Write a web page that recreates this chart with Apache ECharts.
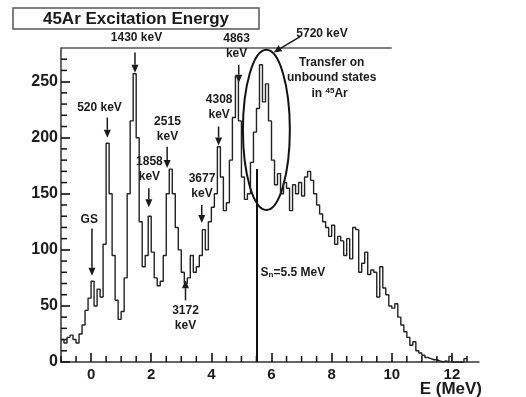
<!DOCTYPE html>
<html>
<head>
<meta charset="utf-8">
<script src="https://cdn.jsdelivr.net/npm/echarts@6/dist/echarts.min.js"></script>
<style>
  html, body { margin: 0; padding: 0; background: #fff; }
  #chart { width: 526px; height: 397px; }
</style>
</head>
<body>
<div id="chart"></div>
<script>
// histogram: 0.1 MeV bins starting at -1.0 MeV
const BIN_START = -1.0;
const BIN_WIDTH = 0.1;
const counts = [
  20, 17, 22, 24, 20, 17, 25, 33, 46, 57,          // -1.0 .. -0.1
  72, 50, 65, 58, 105, 195, 150, 95, 55, 38,       // 0.0 .. 0.9
  45, 75, 150, 215, 257, 200, 125, 85, 95, 130,    // 1.0 .. 1.9
  98, 75, 68, 72, 95, 150, 172, 150, 120, 100,     // 2.0 .. 2.9
  80, 70, 75, 95, 80, 85, 95, 118, 100, 125,       // 3.0 .. 3.9
  138, 150, 192, 165, 135, 142, 180, 218, 255, 215,// 4.0 .. 4.9
  165, 145, 150, 178, 205, 226, 265, 232, 248, 215,// 5.0 .. 5.9
  180, 158, 168, 150, 160, 155, 135, 158, 150, 160,// 6.0 .. 6.9
  148, 165, 170, 162, 150, 140, 132, 125, 120, 112,// 7.0 .. 7.9
  122, 105, 112, 108, 95, 110, 92, 120, 118, 80,   // 8.0 .. 8.9
  88, 98, 78, 82, 80, 58, 85, 66, 60, 50,          // 9.0 .. 9.9
  48, 52, 40, 33, 27, 22, 15, 18, 10, 8,           // 10.0 .. 10.9
  6, 4, 3, 2, 2, 1, 0, 1, 0, 5,                    // 11.0 .. 11.9
  0, 0, 0, 0, 3                                    // 12.0 .. 12.4
];

const X_MIN = -1, X_MAX = 12.9, Y_MIN = 0, Y_MAX = 280;
const xLabelTicks = [0, 2, 4, 6, 8, 10, 12];
const xMinorTicks = [-1, -0.5, 0.5, 1, 1.5, 2.5, 3, 3.5, 4.5, 5, 5.5, 6.5, 7, 7.5, 8.5, 9, 9.5, 10.5, 11, 11.5, 12.5];
const yLabelTicks = [0, 50, 100, 150, 200, 250];
const yMinorTicks = [10, 20, 30, 40, 60, 70, 80, 90, 110, 120, 130, 140, 160, 170, 180, 190, 210, 220, 230, 240, 260, 270];

const SN_ENERGY = 5.5;
const SN_LINE_TOP = 172;

// annotation texts [text, E (MeV), counts]
const peakLabels = [
  ['GS', -0.06, 126.5],
  ['520 keV', 0.28, 226.5],
  ['1430 keV', 1.51, 289],
  ['1858\nkeV', 1.94, 172],
  ['2515\nkeV', 2.54, 208],
  ['3172\nkeV', 3.14, 39.5],
  ['3677\nkeV', 3.69, 157],
  ['4308\nkeV', 4.26, 227],
  ['4863\nkeV', 4.84, 282],
  ['5720 keV', 7.68, 292.5],
  ['Transfer on\nunbound states', 8.0, 260]
];
// arrows [E from, counts from, E to, counts to]
const arrows = [
  [0.03, 119, 0.03, 77],
  [0.54, 218, 0.54, 200],
  [1.46, 276, 1.46, 258],
  [1.92, 155, 1.92, 138],
  [2.53, 192, 2.53, 173],
  [3.14, 55, 3.14, 73],
  [3.68, 140, 3.68, 124],
  [4.24, 210, 4.24, 193],
  [4.91, 265, 4.91, 249],
  [6.94, 290, 6.07, 276]
];
// ellipse round the unbound states: centre E, centre counts, half width E, half height counts
const ellipse = [5.83, 207, 0.78, 71.5];

const edges = counts.map((_, i) => Math.round((BIN_START + i * BIN_WIDTH) * 10) / 10);
const histData = counts.map((c, i) => [edges[i], c]);
histData.push([Math.round((BIN_START + counts.length * BIN_WIDTH) * 10) / 10, counts[counts.length - 1]]);

const FONT = '"Liberation Sans", Arial, sans-serif';
const INK = '#1a1a1a';
const AXIS = '#111';

const chart = echarts.init(document.getElementById('chart'));
chart.setOption({
  animation: false,
  backgroundColor: '#fff',
  grid: { left: 61, right: 47, top: 48, bottom: 35 },
  xAxis: {
    type: 'value', min: X_MIN, max: X_MAX,
    axisLine: { show: true, onZero: false, lineStyle: { color: '#333', width: 1.5 } },
    axisTick: { show: true, inside: true, length: 9, customValues: xLabelTicks, lineStyle: { color: AXIS, width: 1.6 } },
    axisLabel: { customValues: xLabelTicks, color: INK, fontFamily: FONT, fontWeight: 'bold', fontSize: 15, margin: 5 },
    splitLine: { show: false }
  },
  yAxis: {
    type: 'value', min: Y_MIN, max: Y_MAX,
    axisLine: { show: true, onZero: false, lineStyle: { color: '#333', width: 1.5 } },
    axisTick: { show: true, inside: true, length: 9, customValues: yLabelTicks, lineStyle: { color: AXIS, width: 1.6 } },
    axisLabel: { customValues: yLabelTicks, color: INK, fontFamily: FONT, fontWeight: 'bold', fontSize: 16, margin: 3 },
    splitLine: { show: false }
  },
  series: [{
    type: 'line',
    step: 'end',
    data: histData,
    showSymbol: false,
    clip: false,
    lineStyle: { color: '#222', width: 1.4 },
    markLine: {
      silent: true,
      symbol: 'none',
      label: { show: false },
      lineStyle: { color: '#111', width: 2, type: 'solid' },
      data: [[{ coord: [SN_ENERGY, 0] }, { coord: [SN_ENERGY, SN_LINE_TOP] }]]
    }
  }]
});

// annotations placed through the axes
const px = (e, c) => chart.convertToPixel({ xAxisIndex: 0, yAxisIndex: 0 }, [e, c]);
const graphics = [];

// minor ticks
xMinorTicks.forEach(v => {
  const p = px(v, Y_MIN);
  graphics.push({ type: 'line', z: 10, shape: { x1: p[0], y1: p[1], x2: p[0], y2: p[1] - 6 }, style: { stroke: AXIS, lineWidth: 1.5 } });
});
yMinorTicks.forEach(v => {
  const p = px(X_MIN, v);
  graphics.push({ type: 'line', z: 10, shape: { x1: p[0], y1: p[1], x2: p[0] + 6, y2: p[1] }, style: { stroke: AXIS, lineWidth: 1.5 } });
});

// title box
graphics.push({
  type: 'rect', shape: { x: 13, y: 8, width: 246, height: 21 },
  style: { fill: '#fff', stroke: '#555', lineWidth: 1.5 }
});
graphics.push({
  type: 'text', x: 136, y: 19,
  style: { text: '45Ar Excitation Energy', font: 'bold 17px ' + FONT, fill: INK, align: 'center', verticalAlign: 'middle' }
});

// axis name, right-aligned under the axis end
const axEnd = px(X_MAX, 0);
graphics.push({
  type: 'text', x: axEnd[0] + 3, y: axEnd[1] + 27,
  style: { text: 'E (MeV)', font: 'bold 17px ' + FONT, fill: INK, align: 'right', verticalAlign: 'middle' }
});

// top frame line
const tl = px(X_MIN, Y_MAX), tr = px(10, Y_MAX);
graphics.push({ type: 'line', shape: { x1: tl[0], y1: tl[1], x2: tr[0], y2: tr[1] }, style: { stroke: '#555', lineWidth: 1.3 } });

peakLabels.forEach(([t, e, c]) => {
  const p = px(e, c);
  graphics.push({
    type: 'text', x: p[0], y: p[1],
    style: { text: t, font: 'bold 12px ' + FONT, fill: INK, align: 'center', verticalAlign: 'middle', lineHeight: 15 }
  });
});

// "in 45Ar" with superscript
const inAr = px(8.0, 239);
graphics.push({
  type: 'text', x: inAr[0] - 2, y: inAr[1],
  style: {
    text: '{n|in }{s|45}{n|Ar}',
    align: 'center', verticalAlign: 'middle',
    rich: {
      n: { font: 'bold 12px ' + FONT, fill: INK },
      s: { font: 'bold 8px ' + FONT, fill: INK, padding: [0, 0, 6, 0] }
    }
  }
});

// S_n label
const sn = px(6.71, 80);
graphics.push({
  type: 'text', x: sn[0], y: sn[1],
  style: {
    text: '{n|S}{s|n}{n|=5.5 MeV}',
    align: 'center', verticalAlign: 'middle',
    rich: {
      n: { font: 'bold 12px ' + FONT, fill: INK },
      s: { font: 'bold 8px ' + FONT, fill: INK, padding: [6, 0, 0, 0] }
    }
  }
});

arrows.forEach(([e1, c1, e2, c2]) => {
  const a = px(e1, c1), b = px(e2, c2);
  const dx = b[0] - a[0], dy = b[1] - a[1];
  const len = Math.hypot(dx, dy);
  const ux = dx / len, uy = dy / len;
  const head = 8, half = 3.5;
  const bx = b[0] - ux * head, by = b[1] - uy * head;
  graphics.push({ type: 'line', shape: { x1: a[0], y1: a[1], x2: bx, y2: by }, style: { stroke: INK, lineWidth: 1.5 } });
  graphics.push({
    type: 'polygon',
    shape: { points: [[b[0], b[1]], [bx - uy * half, by + ux * half], [bx + uy * half, by - ux * half]] },
    style: { fill: INK }
  });
});

const ec = px(ellipse[0], ellipse[1]);
const er = px(ellipse[0] + ellipse[2], ellipse[1] + ellipse[3]);
graphics.push({
  type: 'ellipse',
  shape: { cx: ec[0], cy: ec[1], rx: Math.abs(er[0] - ec[0]), ry: Math.abs(er[1] - ec[1]) },
  style: { fill: 'none', stroke: '#111', lineWidth: 2 }
});

chart.setOption({ graphic: graphics });
</script>
</body>
</html>
